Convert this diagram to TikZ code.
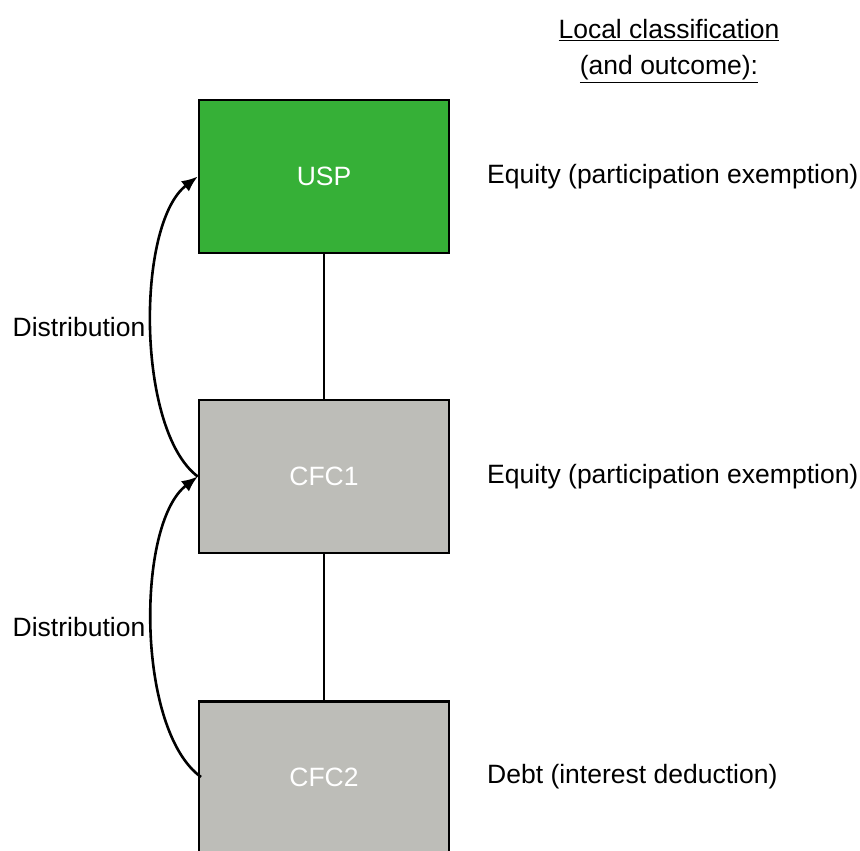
\documentclass[tikz,border=0pt]{standalone}
\usepackage{fontspec}
\setmainfont{Liberation Sans}
\usetikzlibrary{arrows.meta}
\definecolor{uspgreen}{HTML}{36B037}
\definecolor{cfcgrey}{HTML}{BDBDB8}
\tikzset{
  entity/.style={draw=black, line width=2.5pt, minimum width=250pt, minimum height=153pt, inner sep=0pt, text=white, font=\fontsize{26.5}{31}\selectfont},
  lbl/.style={font=\fontsize{26.5}{31}\selectfont, inner sep=0pt},
  flow/.style={line width=2.6pt, -{Latex[length=16pt,width=13pt]}},
  link/.style={line width=1.8pt}
}
\begin{document}
\begin{tikzpicture}[x=1pt,y=-1pt]
\clip (0,0) rectangle (860,851);
\fill[white] (0,0) rectangle (860,851);
\node[entity, fill=uspgreen] (usp) at (324,176.5) {USP};
\node[entity, fill=cfcgrey] (cfc1) at (324,476.5) {CFC1};
\node[entity, fill=cfcgrey, minimum height=200pt, anchor=north] (cfc2) at (324,700) {};
\node[lbl, text=white] (cfc2t) at (324,777) {CFC2};
\draw[link] (usp.south) -- (cfc1.north);
\draw[link] (cfc1.south) -- (cfc2.north);
\coordinate (c2w) at (201,777);
\draw[flow] (cfc1.west) .. controls (136,430) and (136,224) .. (usp.west);
\draw[flow] (c2w) .. controls (136,730) and (136,524) .. (cfc1.west);
\node[lbl] (d1) at (79,327) {Distribution};
\node[lbl] (d2) at (79,627) {Distribution};
\node[lbl, anchor=west] (e1) at (487,177) {Equity (participation exemption)};
\node[lbl, anchor=west] (e2) at (487,477) {Equity (participation exemption)};
\node[lbl, anchor=west] (e3) at (487,777) {Debt (interest deduction)};
\node[lbl] (t1) at (669,30) {\underline{Local classification}};
\node[lbl] (t2) at (669,69) {\underline{(and outcome):}};
\end{tikzpicture}
\end{document}
